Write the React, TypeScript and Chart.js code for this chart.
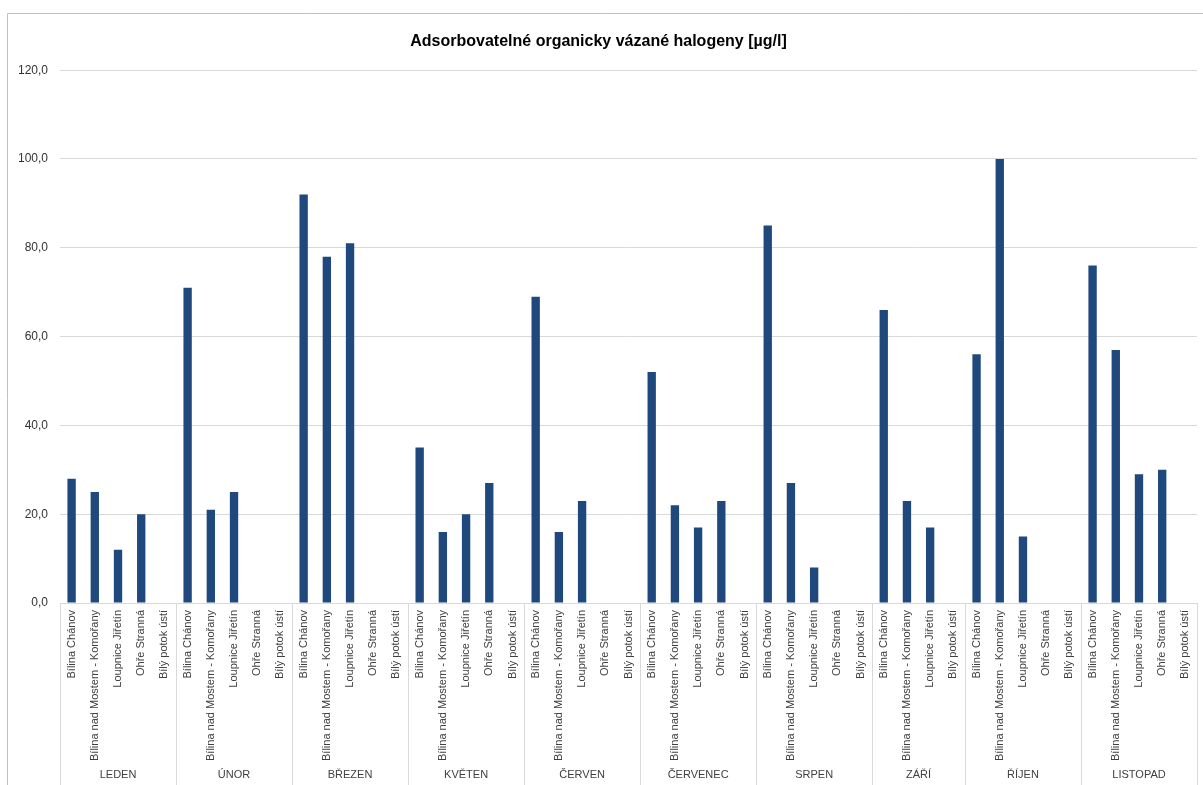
import React, { useEffect, useRef } from "react";
import { Chart, registerables } from "chart.js";

Chart.register(...registerables);

const TITLE = "Adsorbovatelné organicky vázané halogeny [µg/l]";

const months = ["LEDEN", "ÚNOR", "BŘEZEN", "KVĚTEN", "ČERVEN", "ČERVENEC", "SRPEN", "ZÁŘÍ", "ŘÍJEN", "LISTOPAD"];

const stations = ["Bílina Chánov", "Bílina nad Mostem - Komořany", "Loupnice Jiřetín", "Ohře Stranná", "Bílý potok ústí"];
const stationsZari = ["Bílina Chánov", "Bílina nad Mostem - Komořany", "Loupnice Jiřetín", "Bílý potok ústí"];

const stationsByMonth = [stations, stations, stations, stations, stations, stations, stations, stationsZari, stations, stations];

const valuesLeden = [28, 25, 12, 20, null];
const valuesUnor = [71, 21, 25, null, null];
const valuesBrezen = [92, 78, 81, null, null];
const valuesKveten = [35, 16, 20, 27, null];
const valuesCerven = [69, 16, 23, null, null];
const valuesCervenec = [52, 22, 17, 23, null];
const valuesSrpen = [85, 27, 8, null, null];
const valuesZari = [66, 23, 17, null];
const valuesRijen = [56, 100, 15, null, null];
const valuesListopad = [76, 57, 29, 30, null];

const valuesByMonth = [valuesLeden, valuesUnor, valuesBrezen, valuesKveten, valuesCerven, valuesCervenec, valuesSrpen, valuesZari, valuesRijen, valuesListopad];

const yTicks = [0, 20, 40, 60, 80, 100, 120];

const FONT = "'Liberation Sans', Arial, sans-serif";

export default function App() {
  const ref = useRef<HTMLCanvasElement | null>(null);

  useEffect(() => {
    document.body.style.margin = "0";
    const labels: string[] = [];
    const data: (number | null)[] = [];
    const groupSizes: number[] = [];
    stationsByMonth.forEach((st, m) => {
      groupSizes.push(st.length);
      st.forEach((s, i) => {
        labels.push(s);
        data.push(valuesByMonth[m][i] as number | null);
      });
    });

    const groupPlugin = {
      id: "groups",
      beforeDraw(chart: any) {
        const ctx = chart.ctx;
        ctx.save();
        ctx.fillStyle = "#ffffff";
        ctx.fillRect(0, 0, chart.width, chart.height);
        ctx.strokeStyle = "#c0c0c0";
        ctx.lineWidth = 1;
        ctx.beginPath();
        ctx.moveTo(7.5, chart.height);
        ctx.lineTo(7.5, 13.5);
        ctx.lineTo(chart.width, 13.5);
        ctx.stroke();
        ctx.restore();
      },
      afterDraw(chart: any) {
        const ctx = chart.ctx;
        const area = chart.chartArea;
        const n = labels.length;
        const w = (area.right - area.left) / n;
        ctx.save();
        ctx.strokeStyle = "#d9d9d9";
        ctx.lineWidth = 1;
        ctx.beginPath();
        ctx.moveTo(area.left, Math.round(area.bottom) + 0.5);
        ctx.lineTo(area.right, Math.round(area.bottom) + 0.5);
        let idx = 0;
        const bounds: number[] = [area.left];
        groupSizes.forEach((g) => {
          idx += g;
          bounds.push(area.left + idx * w);
        });
        bounds.forEach((x) => {
          const xx = Math.round(x) + 0.5;
          ctx.moveTo(xx, area.bottom);
          ctx.lineTo(xx, chart.height);
        });
        ctx.stroke();
        ctx.fillStyle = "#404040";
        ctx.font = `11px ${FONT}`;
        ctx.textAlign = "center";
        ctx.textBaseline = "middle";
        months.forEach((m, i) => {
          const cx = (bounds[i] + bounds[i + 1]) / 2;
          ctx.fillText(m, cx, 775);
        });
        ctx.restore();
      },
    };

    const chart = new Chart(ref.current as HTMLCanvasElement, {
      type: "bar",
      data: {
        labels,
        datasets: [
          {
            data,
            backgroundColor: "#1f497d",
            borderWidth: 0,
            barPercentage: 0.36,
            categoryPercentage: 1,
          },
        ],
      },
      options: {
        responsive: false,
        animation: false,
        layout: { padding: { left: 0, right: 6, top: 0, bottom: 0 } },
        plugins: {
          legend: { display: false },
          tooltip: { enabled: false },
          title: {
            display: true,
            text: TITLE,
            color: "#000000",
            font: { family: FONT, size: 16, weight: "bold" },
            padding: { top: 32, bottom: 19 },
          },
        },
        scales: {
          x: {
            type: "category",
            offset: true,
            grid: { display: false, drawTicks: false },
            border: { display: false },
            ticks: {
              autoSkip: false,
              minRotation: 90,
              maxRotation: 90,
              padding: 7,
              color: "#404040",
              font: { family: FONT, size: 11 },
            },
            afterFit(scale: any) {
              scale.height = 182;
              scale.paddingLeft = 0;
              scale.paddingRight = 0;
            },
          },
          y: {
            min: 0,
            max: 120,
            afterBuildTicks(scale: any) {
              scale.ticks = yTicks.map((v) => ({ value: v }));
            },
            grid: { color: "#d9d9d9", drawTicks: false, lineWidth: 1 },
            border: { display: false },
            ticks: {
              padding: 12,
              color: "#333333",
              font: { family: FONT, size: 12 },
              callback: (v: any) => Number(v).toFixed(1).replace(".", ","),
            },
            afterFit(scale: any) {
              scale.width = 60;
            },
          },
        },
      },
      plugins: [groupPlugin],
    });
    return () => chart.destroy();
  }, []);

  return (
    <div style={{ width: 1203, height: 785 }}>
      <canvas ref={ref} width={1203} height={785} style={{ display: "block" }} />
    </div>
  );
}
